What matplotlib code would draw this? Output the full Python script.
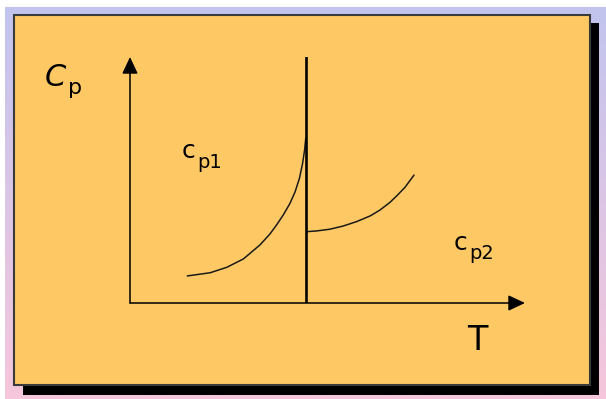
import numpy as np
import matplotlib.pyplot as plt
from matplotlib.patches import Rectangle
from matplotlib.colors import LinearSegmentedColormap

# data (arbitrary units, axes 0..10)
t_phase1 = [1.45, 2.03, 2.45, 2.87, 3.29, 3.54, 3.71, 3.88, 4.05, 4.18, 4.29, 4.37, 4.42, 4.45]
cp_phase1 = [1.10, 1.23, 1.45, 1.79, 2.36, 2.80, 3.17, 3.58, 4.05, 4.52, 5.07, 5.68, 6.22, 6.70]
t_phase2 = [4.47, 4.73, 5.06, 5.40, 5.74, 6.08, 6.33, 6.58, 6.75, 6.96, 7.19]
cp_phase2 = [2.90, 2.93, 3.00, 3.13, 3.31, 3.54, 3.78, 4.09, 4.35, 4.70, 5.20]
t_transition = 4.46

W, H = 606, 399
fig = plt.figure(figsize=(W / 100, H / 100), dpi=100)

# background in pixel coordinates
bg = fig.add_axes([0, 0, 1, 1])
bg.set_xlim(0, W)
bg.set_ylim(H, 0)
bg.axis('off')
cmap = LinearSegmentedColormap.from_list('bg', ['#c2c4ef', '#f6c7dc'])
grad = np.linspace(0, 1, 256).reshape(-1, 1)
bg.imshow(grad, cmap=cmap, extent=[5, W, H, 7], aspect='auto', zorder=0)

# shadow + box
bg.add_patch(Rectangle((23, 23), 576, 372, facecolor='black', edgecolor='none', zorder=1))
bg.add_patch(Rectangle((14, 15), 576, 370, facecolor='#fec965', edgecolor='#3a3a3a',
                       linewidth=1.5, zorder=2))

# labels
bg.text(45, 86, 'C', fontsize=22, style='italic', color='black', zorder=3)
bg.text(68, 94, 'p', fontsize=16, color='black', zorder=3)
bg.text(182, 158, 'c', fontsize=18, color='black', zorder=3)
bg.text(197, 168, 'p1', fontsize=14, color='black', zorder=3)
bg.text(454, 250, 'c', fontsize=18, color='black', zorder=3)
bg.text(469, 259, 'p2', fontsize=14, color='black', zorder=3)
bg.text(467, 350, 'T', fontsize=24, color='black', zorder=3)

# chart axes
ax = fig.add_axes([130 / W, (H - 303) / H, 395 / W, 246 / H])
ax.patch.set_alpha(0)
ax.set_xlim(0, 10)
ax.set_ylim(0, 10)
ax.axis('off')

arrow = dict(arrowstyle='-|>,head_length=0.85,head_width=0.4', mutation_scale=12,
             color='black', lw=1.1, shrinkA=0, shrinkB=0)
ax.annotate('', xy=(0, 1), xytext=(0, 0), xycoords='axes fraction', arrowprops=arrow)
ax.annotate('', xy=(1, 0), xytext=(0, 0), xycoords='axes fraction', arrowprops=arrow)

ax.plot(t_phase1, cp_phase1, color='#1a1a1a', lw=1.1, clip_on=False,
        solid_joinstyle='round', solid_capstyle='round')
ax.plot(t_phase2, cp_phase2, color='#1a1a1a', lw=1.1, clip_on=False,
        solid_joinstyle='round', solid_capstyle='round')
ax.axvline(t_transition, ymin=0, ymax=1, color='black', lw=1.9)

fig.savefig('out.png', dpi=100)
